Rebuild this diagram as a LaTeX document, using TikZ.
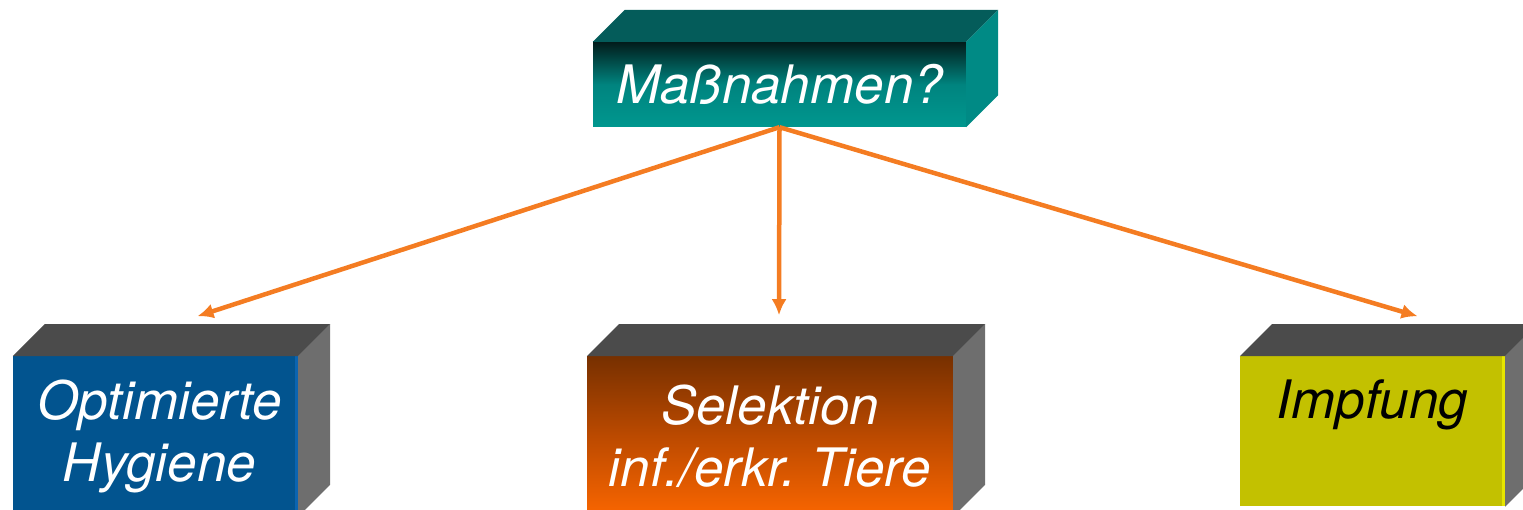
\documentclass[tikz,border=0pt]{standalone}
\usepackage{fontspec}
\usepackage{xcolor}
\setmainfont{TeX Gyre Heros}
\usetikzlibrary{arrows.meta, positioning}

\definecolor{tealtop}{HTML}{021C1B}
\definecolor{tealmid}{HTML}{00847F}
\definecolor{tealbot}{HTML}{00978F}
\definecolor{tealroof}{HTML}{045C5A}
\definecolor{tealside}{HTML}{008A85}
\definecolor{hygblue}{HTML}{02548F}
\definecolor{hygedge}{HTML}{0B64B0}
\definecolor{seltop}{HTML}{773000}
\definecolor{selmid}{HTML}{BC4A00}
\definecolor{selbot}{HTML}{FA6600}
\definecolor{vacyellow}{HTML}{C3C100}
\definecolor{vacedge}{HTML}{E6E600}
\definecolor{greyroof}{HTML}{4B4B4B}
\definecolor{greyside}{HTML}{6E6E6E}
\definecolor{arrowline}{HTML}{F47C22}

% roof and side of a block, drawn from the front face node
\newcommand\drawfaces[3]{%
  \fill[#2] (#1.north west) -- ++(32,32) -- ([shift={(32,32)}]#1.north east) -- (#1.north east) -- cycle;
  \fill[#3] (#1.north east) -- ++(32,32) -- ([shift={(32,32)}]#1.south east) -- (#1.south east) -- cycle;}

\begin{document}
\begin{tikzpicture}[x=1pt, y=1pt, node distance=229pt,
    block/.style={inner sep=0pt, align=center, text=white,
      font=\fontsize{53}{62}\selectfont\itshape\frenchspacing},
    edge/.style={path picture={\fill[#1] ([xshift=-3pt]path picture bounding box.north east)
      rectangle (path picture bounding box.south east);}},
    link/.style={line width=4.5pt, arrowline, -{Latex[length=16pt,width=15pt]}}]
  \clip (0,0) rectangle (1523,509);

  % Nodes
  \node[block, minimum width=373pt, minimum height=85pt,
        top color=tealtop, bottom color=tealbot, middle color=tealmid] (measures) at (779.5,424.5) {Maßnahmen?};
  \node[block, below=of measures, xshift=-624pt, minimum width=285pt, minimum height=160pt,
        fill=hygblue, edge=hygedge] (hygiene) {\hspace{8pt}Optimierte\\\hspace{8pt}Hygiene};
  \node[block, below=of measures, xshift=-9.5pt, minimum width=366pt, minimum height=160pt,
        top color=seltop, bottom color=selbot, middle color=selmid] (selection) {Selektion\\inf./erkr. Tiere};
  \node[block, below=of measures, xshift=593pt, minimum width=265pt, minimum height=150pt,
        fill=vacyellow, edge=vacedge, text=black, text height=40pt, text depth=66pt] (vaccine) {Impfung};

  % 3D faces
  \drawfaces{measures}{tealroof}{tealside}
  \drawfaces{hygiene}{greyroof}{greyside}
  \drawfaces{selection}{greyroof}{greyside}
  \drawfaces{vaccine}{greyroof}{greyside}

  % Arrows
  \draw[link] (measures.south) -- ([shift={(42,40)}]hygiene.north);
  \draw[link] (measures.south) -- ([shift={(9,41)}]selection.north);
  \draw[link] (measures.south) -- ([shift={(45,40)}]vaccine.north);
\end{tikzpicture}
\end{document}
